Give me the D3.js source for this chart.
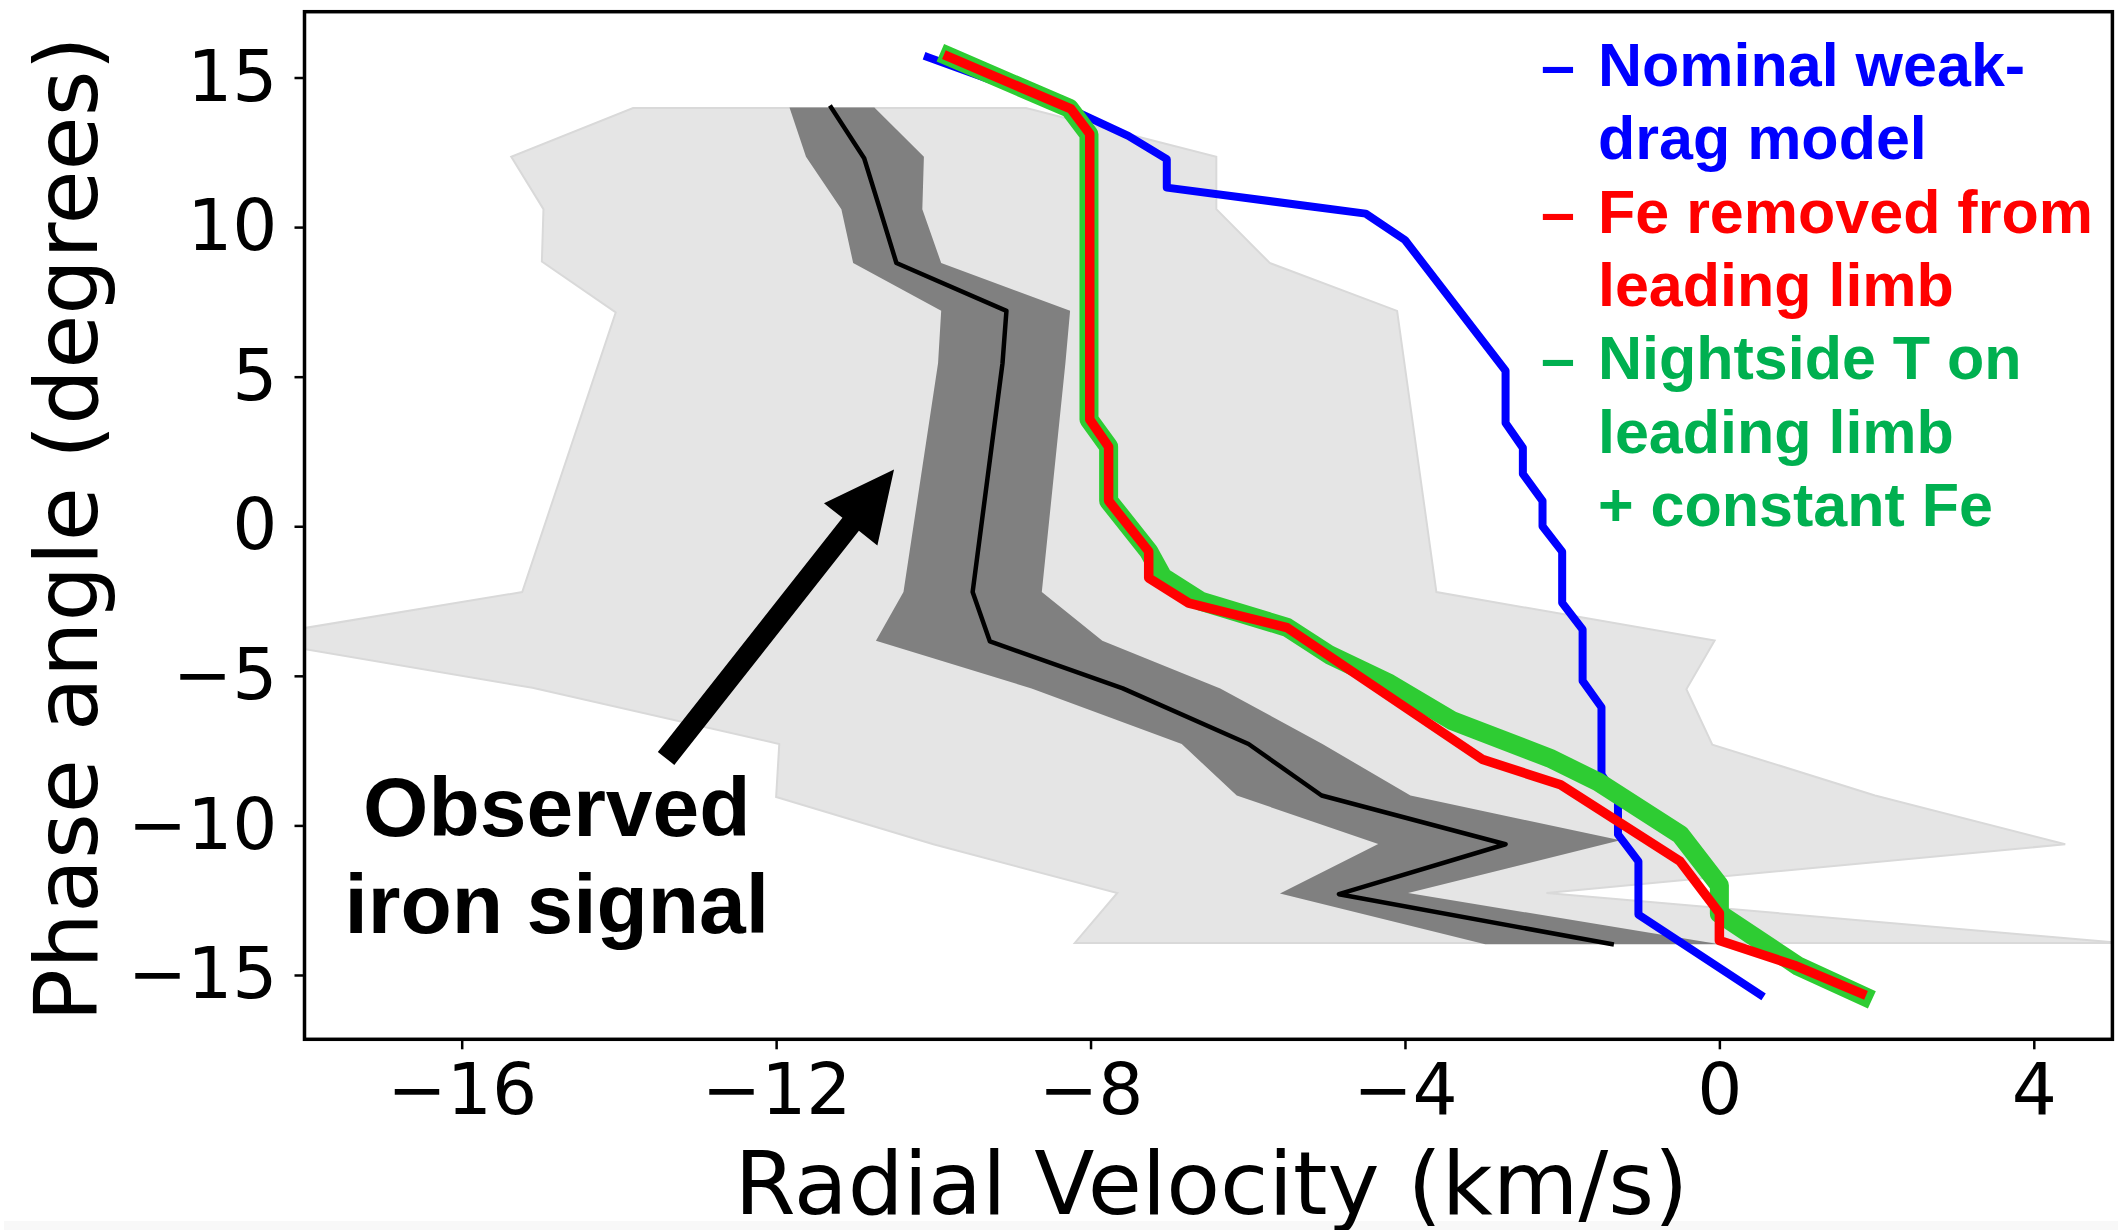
<!DOCTYPE html>
<html><head><meta charset="utf-8">
<script src="https://cdn.jsdelivr.net/npm/d3@7"></script>
<style>body{margin:0;background:#fff;overflow:hidden}</style>
</head><body>
<svg id="chart" width="2118" height="1230"></svg>
<script>
// ---------- data ----------
const xTicks = [-16, -12, -8, -4, 0, 4];
const yTicks = [15, 10, 5, 0, -5, -10, -15];
const xDomain = [-18, 5];
const yDomain = [-17.15, 17.2];

// light grey envelope (x = radial velocity, y = phase angle)
const lightBand = [
  [-13.82, 13.98], [-8.82, 13.98], [-6.40, 12.35], [-6.40, 10.6], [-5.72, 8.8],
  [-4.10, 7.2], [-3.60, -2.2], [-0.06, -3.82], [-0.42, -5.45], [-0.09, -7.3],
  [1.98, -9.0], [4.40, -10.63], [-2.2, -12.26], [5.1, -13.93], [-8.2, -13.93],
  [-7.66, -12.26], [-10.0, -10.63], [-12.0, -9.05], [-11.96, -7.28], [-15.1, -5.4],
  [-18.8, -3.75], [-15.23, -2.2], [-14.04, 7.15], [-14.98, 8.85], [-14.96, 10.6],
  [-15.37, 12.35]
];
// dark grey band around the observed signal
const darkLeft = [
  [-11.83, 14.0], [-11.62, 12.35], [-11.17, 10.6], [-11.02, 8.8], [-9.90, 7.2],
  [-9.94, 5.45], [-10.38, -2.2], [-10.73, -3.83], [-8.75, -5.42], [-6.84, -7.28],
  [-6.14, -9.0], [-4.34, -10.62], [-5.59, -12.28], [-2.98, -13.97]
];
const darkRight = [
  [-10.75, 14.0], [-10.12, 12.35], [-10.14, 10.6], [-9.90, 8.8], [-8.26, 7.2],
  [-8.32, 5.45], [-8.62, -2.2], [-7.85, -3.83], [-6.35, -5.42], [-5.05, -7.28],
  [-3.93, -9.0], [-1.26, -10.5], [-3.96, -12.26], [0.0, -13.97]
];
const observed = [
  [-11.30, 14.0], [-10.88, 12.3], [-10.68, 10.6], [-10.47, 8.8], [-9.07, 7.2],
  [-9.12, 5.45], [-9.50, -2.2], [-9.28, -3.85], [-7.59, -5.42], [-5.99, -7.28],
  [-5.06, -9.0], [-2.72, -10.63], [-4.84, -12.3], [-1.37, -13.97]
];
const nominalModel = [
  [-10.07, 15.68], [-8.3, 14.0], [-7.52, 13.05], [-7.03, 12.27], [-7.03, 11.32],
  [-4.5, 10.45], [-4.0, 9.57], [-2.72, 5.2], [-2.72, 3.45], [-2.5, 2.62],
  [-2.5, 1.75], [-2.25, 0.85], [-2.25, 0.0], [-2.0, -0.85], [-2.0, -2.56],
  [-1.74, -3.45], [-1.74, -5.17], [-1.5, -6.05], [-1.5, -8.3], [-1.29, -9.15],
  [-1.29, -10.3], [-1.03, -11.2], [-1.03, -12.98], [0.52, -15.66]
];
const nightsideModel = [
  [-9.8, 15.7], [-8.27, 13.97], [-8.02, 13.1], [-8.02, 3.57], [-7.77, 2.66],
  [-7.77, 0.85], [-7.26, -0.84], [-7.08, -1.7], [-6.6, -2.5], [-5.5, -3.38],
  [-4.96, -4.3], [-4.2, -5.25], [-3.4, -6.5], [-2.16, -7.75], [-1.54, -8.55],
  [-0.5, -10.3], [0.0, -12.0], [0.0, -12.95], [1.0, -14.7], [1.83, -15.7]
];
const feRemovedModel = [
  [-9.81, 15.7], [-8.25, 13.95], [-8.01, 13.12], [-8.01, 3.57], [-7.77, 2.66],
  [-7.77, 0.85], [-7.26, -0.84], [-7.26, -1.73], [-6.75, -2.57], [-5.5, -3.39],
  [-3.01, -7.8], [-2.02, -8.64], [-0.5, -11.2], [0.0, -12.93], [0.0, -13.85],
  [0.98, -14.7], [1.81, -15.62]
];
const legendRows = [
  {text: "Nominal weak-", color: "#0000ff", dash: true},
  {text: "drag model", color: "#0000ff", dash: false},
  {text: "Fe removed from", color: "#ff0000", dash: true},
  {text: "leading limb", color: "#ff0000", dash: false},
  {text: "Nightside T on", color: "#00b050", dash: true},
  {text: "leading limb", color: "#00b050", dash: false},
  {text: "+ constant Fe", color: "#00b050", dash: false}
];
const annotationText = ["Observed", "iron signal"];
const annotationAnchor = [-14.79, -10.37];
const arrowTail = [-13.40, -7.76];
const arrowTip = [-10.50, 1.90];
const xLabel = "Radial Velocity (km/s)";
const yLabel = "Phase angle (degrees)";

// ---------- layout ----------
const W = 2118, H = 1230;
const plot = {left: 304.5, right: 2112.4, top: 11.7, bottom: 1039.3};
const svg = d3.select("#chart");
svg.append("rect").attr("width", W).attr("height", H).attr("fill", "#fff");
svg.append("rect").attr("x", 4).attr("y", 1221).attr("width", W - 4).attr("height", 9).attr("fill", "#f8f8f8");

const x = d3.scaleLinear().domain(xDomain).range([plot.left, plot.right]);
const y = d3.scaleLinear().domain(yDomain).range([plot.bottom, plot.top]);

svg.append("clipPath").attr("id", "clip").append("rect")
  .attr("x", plot.left).attr("y", plot.top)
  .attr("width", plot.right - plot.left).attr("height", plot.bottom - plot.top);

const g = svg.append("g").attr("clip-path", "url(#clip)");
const line = d3.line().x(d => x(d[0])).y(d => y(d[1]));

// light band
g.append("path").datum(lightBand)
  .attr("d", d => line(d) + "Z")
  .attr("fill", "#e5e5e5").attr("stroke", "#d9d9d9").attr("stroke-width", 2)
  .attr("stroke-linejoin", "miter");

// dark band
g.append("path").datum(darkLeft.concat(darkRight.slice().reverse()))
  .attr("d", d => line(d) + "Z")
  .attr("fill", "#808080");

// observed signal
g.append("path").datum(observed).attr("d", line)
  .attr("fill", "none").attr("stroke", "#000").attr("stroke-width", 4.5)
  .attr("stroke-linejoin", "round").attr("stroke-linecap", "square");

// models
g.append("path").datum(nominalModel).attr("d", line)
  .attr("fill", "none").attr("stroke", "#0000ff").attr("stroke-width", 8)
  .attr("stroke-linejoin", "round").attr("stroke-linecap", "square");
g.append("path").datum(nightsideModel).attr("d", line)
  .attr("fill", "none").attr("stroke", "#2ecc33").attr("stroke-width", 19)
  .attr("stroke-linejoin", "round").attr("stroke-linecap", "square");
g.append("path").datum(feRemovedModel).attr("d", line)
  .attr("fill", "none").attr("stroke", "#ff0000").attr("stroke-width", 9.5)
  .attr("stroke-linejoin", "round").attr("stroke-linecap", "square");

// arrow
(function () {
  const p0 = [x(arrowTail[0]), y(arrowTail[1])];
  const p1 = [x(arrowTip[0]), y(arrowTip[1])];
  const dx = p1[0] - p0[0], dy = p1[1] - p0[1];
  const len = Math.hypot(dx, dy);
  const u = [dx / len, dy / len], n = [-u[1], u[0]];
  const sw = 10.5, hw = 34, hl = 70;
  const neck = [p1[0] - u[0] * hl, p1[1] - u[1] * hl];
  const pts = [
    [p0[0] + n[0] * sw, p0[1] + n[1] * sw],
    [neck[0] + n[0] * sw, neck[1] + n[1] * sw],
    [neck[0] + n[0] * hw, neck[1] + n[1] * hw],
    p1,
    [neck[0] - n[0] * hw, neck[1] - n[1] * hw],
    [neck[0] - n[0] * sw, neck[1] - n[1] * sw],
    [p0[0] - n[0] * sw, p0[1] - n[1] * sw]
  ];
  svg.append("path").attr("d", "M" + pts.map(p => p.join(",")).join("L") + "Z")
    .attr("fill", "#000");
})();

// annotation text
svg.append("g").selectAll("text").data(annotationText).join("text")
  .attr("x", x(annotationAnchor[0]))
  .attr("y", (d, i) => y(annotationAnchor[1]) + i * 97)
  .attr("text-anchor", "middle")
  .attr("font-family", "'Liberation Sans', Arial, sans-serif")
  .attr("font-weight", "bold").attr("font-size", 84)
  .attr("fill", "#000").text(d => d);

// legend
const legend = svg.append("g").attr("font-family", "'Liberation Sans', Arial, sans-serif")
  .attr("font-weight", "bold").attr("font-size", 61);
legendRows.forEach((r, i) => {
  const by = 86 + i * 73.3;
  if (r.dash) legend.append("text").attr("x", 1541).attr("y", by).attr("fill", r.color).text("\u2013");
  legend.append("text").attr("x", 1598).attr("y", by).attr("fill", r.color).text(r.text);
});

// axes
const tickFont = "'DejaVu Sans', sans-serif";
const xAxis = svg.append("g").attr("transform", `translate(0,${plot.bottom})`)
  .call(d3.axisBottom(x).tickValues(xTicks).tickSize(10).tickPadding(14));
const yAxis = svg.append("g").attr("transform", `translate(${plot.left},0)`)
  .call(d3.axisLeft(y).tickValues(yTicks).tickSize(10).tickPadding(17));
[xAxis, yAxis].forEach(a => {
  a.select(".domain").remove();
  a.selectAll(".tick line").attr("stroke", "#000").attr("stroke-width", 2.5);
  a.selectAll(".tick text").attr("font-family", tickFont).attr("font-size", 71).attr("fill", "#000");
});

// frame
svg.append("rect").attr("x", plot.left).attr("y", plot.top)
  .attr("width", plot.right - plot.left).attr("height", plot.bottom - plot.top)
  .attr("fill", "none").attr("stroke", "#000").attr("stroke-width", 3.5);

// axis labels
svg.append("text").attr("x", (plot.left + plot.right) / 2 + 3).attr("y", 1214)
  .attr("text-anchor", "middle").attr("font-family", tickFont).attr("font-size", 88)
  .attr("fill", "#000").text(xLabel);
svg.append("text").attr("transform", "translate(97,529) rotate(-90)")
  .attr("text-anchor", "middle").attr("font-family", tickFont).attr("font-size", 88)
  .attr("fill", "#000").text(yLabel);
</script>
</body></html>
